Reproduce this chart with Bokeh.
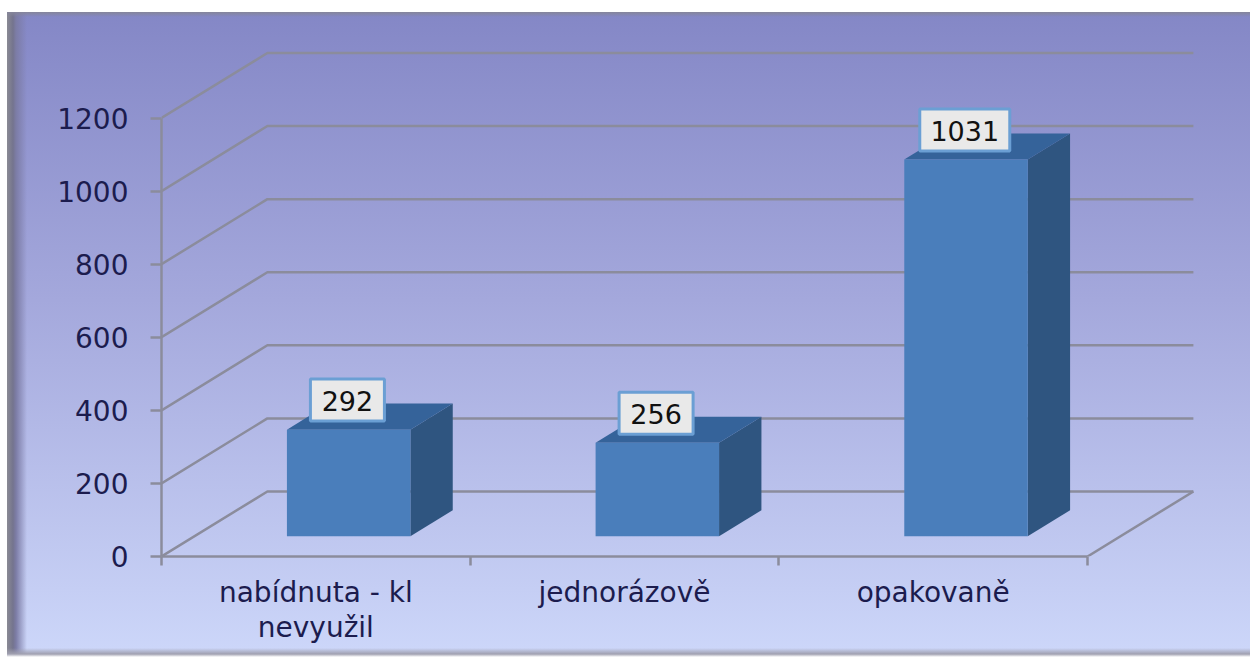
from bokeh.plotting import figure
from bokeh.embed import file_html
from bokeh.resources import INLINE
from bokeh.core.properties import value
from bokeh.models import FixedTicker, InlineStyleSheet, Range1d

categories = ["nabídnuta - kl\nnevyužil", "jednorázově", "opakovaně"]
values = [292, 256, 1031]
y_ticks = [0, 200, 400, 600, 800, 1000, 1200]
x_centres = [0.5, 1.5, 2.5]
x_bounds = [0, 1, 2, 3]

# 3D projection, in data units of the two axes
DEPTH_X = 0.343
DEPTH_Y = 178
BAR_NEAR = 0.31
BAR_FAR = 0.71
BAR_HALF = 0.2

GRID = "#8b8c9c"
TEXT = "#1c1c4e"
FONT = "DejaVu Sans"

css = """
:host {
  background:
    linear-gradient(to right, #fff 0, #fff 7px, rgba(255,255,255,0) 7px),
    linear-gradient(to bottom, #fff 0, #fff 12px, #85859a 12px, rgba(133,133,154,0) 17px),
    linear-gradient(to bottom, rgba(150,150,165,0) 648px, #a0a0b0 654px, #fff 657px),
    linear-gradient(to right, #8a8a94 7px, #74748e 13px, #7c7ca6 16px, rgba(120,120,170,0) 27px),
    linear-gradient(to bottom, #8487c6 12px, #a4a8dc 300px, #ccd6f9 650px);
}
"""

p = figure(width=1250, height=657, output_backend="svg", toolbar_location=None,
           x_range=Range1d(0, 3.528), y_range=Range1d(0, 1521.6),
           min_border_left=161, min_border_right=0, min_border_top=0, min_border_bottom=101,
           border_fill_color=None, background_fill_color=None, outline_line_color=None)
p.stylesheets = [InlineStyleSheet(css=css)]
p.grid.visible = False

# walls
for v in y_ticks:
    p.line([0, DEPTH_X, 3 + DEPTH_X], [v, v + DEPTH_Y, v + DEPTH_Y], line_color=GRID, line_width=2.5)
p.line([3, 3 + DEPTH_X], [0, DEPTH_Y], line_color=GRID, line_width=2.5)

# bars
for i, v in enumerate(values):
    near_y = BAR_NEAR * DEPTH_Y
    far_y = BAR_FAR * DEPTH_Y
    c = x_centres[i] + BAR_NEAR * DEPTH_X
    l, r = c - BAR_HALF, c + BAR_HALF
    dx = (BAR_FAR - BAR_NEAR) * DEPTH_X
    dy = far_y - near_y
    top = near_y + v
    p.patch([r, r + dx, r + dx, r], [near_y, far_y, top + dy, top], fill_color="#2f5580", line_color=None)
    p.patch([l, l + dx, r + dx, r], [top, top + dy, top + dy, top], fill_color="#35639a", line_color=None)
    p.quad(left=[l], right=[r], bottom=[near_y], top=[top], fill_color="#4a7ebb", line_color=None)

    # value label
    label = str(v)
    p.rect(x=[c - 0.004], y=[top + 81], width=[26 + 16 * len(label)], height=[42],
           width_units="screen", height_units="screen",
           fill_color="#e9e9e9", line_color="#6b9fd4", line_width=3)
    p.text(x=[c - 0.004], y=[top + 78], text=[label], text_align="center", text_baseline="middle",
           text_font=value(FONT), text_font_size="27px", text_color="#111111")

# axes
ya = p.yaxis[0]
ya.ticker = FixedTicker(ticks=y_ticks)
ya.bounds = (0, 1200)
ya.axis_line_color = GRID
ya.axis_line_width = 2.5
ya.major_tick_line_color = GRID
ya.major_tick_line_width = 2.5
ya.major_tick_in = 0
ya.major_tick_out = 11
ya.minor_tick_line_color = None
ya.major_label_standoff = 22
ya.major_label_text_font = FONT
ya.major_label_text_font_size = "28px"
ya.major_label_text_color = TEXT

xa = p.xaxis[0]
xa.ticker = FixedTicker(ticks=x_centres, minor_ticks=x_bounds)
xa.bounds = (0, 3)
xa.axis_line_color = GRID
xa.axis_line_width = 2.5
xa.major_tick_line_color = None
xa.minor_tick_line_color = GRID
xa.minor_tick_line_width = 2.5
xa.minor_tick_in = 0
xa.minor_tick_out = 9
xa.major_label_overrides = dict(zip(x_centres, categories))
xa.major_label_standoff = 10
xa.major_label_text_font = FONT
xa.major_label_text_font_size = "28px"
xa.major_label_text_line_height = 1.07
xa.major_label_text_color = TEXT

open("out.html", "w").write(file_html(p, INLINE))
